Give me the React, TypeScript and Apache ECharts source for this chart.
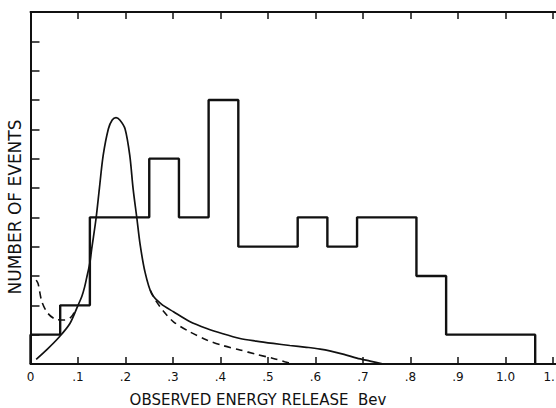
import React, { useEffect, useRef } from "react";
import * as echarts from "echarts";

// Histogram: bins of 1/16 Bev starting at 0, counts per bin
const binWidth = 0.0625;
const binCounts = [1, 2, 5, 5, 7, 5, 9, 4, 4, 5, 4, 5, 5, 3, 1, 1, 1];

// Solid resonance curve [E, events]
const solidCurve: [number, number][] = [
  [0.012, 0.16], [0.035, 0.5], [0.061, 0.93], [0.083, 1.38], [0.1, 2.0],
  [0.108, 2.3], [0.114, 2.63], [0.118, 2.92], [0.125, 3.45], [0.129, 3.94],
  [0.138, 4.96], [0.145, 5.98], [0.153, 7.11], [0.164, 8.02], [0.172, 8.32],
  [0.18, 8.4], [0.188, 8.32], [0.199, 8.02], [0.209, 7.11], [0.216, 5.98],
  [0.224, 4.96], [0.231, 4.05], [0.241, 3.14], [0.255, 2.4], [0.275, 2.05],
  [0.301, 1.78], [0.335, 1.45], [0.371, 1.21], [0.405, 1.03], [0.441, 0.87],
  [0.475, 0.78], [0.511, 0.7], [0.546, 0.63], [0.581, 0.57], [0.61, 0.51],
  [0.63, 0.45], [0.66, 0.33], [0.687, 0.2], [0.715, 0.1], [0.743, 0.0],
];

// Dashed curve, low-energy part and high-energy tail
const dashedLow: [number, number][] = [
  [0.012, 2.86], [0.016, 2.74], [0.024, 2.12], [0.037, 1.72], [0.054, 1.52],
  [0.072, 1.5], [0.086, 1.61], [0.095, 1.85],
];
const dashedHigh: [number, number][] = [
  [0.252, 2.52], [0.263, 2.18], [0.28, 1.8], [0.301, 1.44], [0.335, 1.1],
  [0.371, 0.82], [0.405, 0.63], [0.441, 0.48], [0.475, 0.33], [0.511, 0.19],
  [0.535, 0.08], [0.553, 0.0],
];

const xTickLabels = ["0", ".1", ".2", ".3", ".4", ".5", ".6", ".7", ".8", ".9", "1.0", "1.1"];
const xTitle = "OBSERVED ENERGY RELEASE  Bev";
const yTitle = "NUMBER OF EVENTS";

const FONT = "DejaVu Sans";
const INK = "#111";

export default function App() {
  const ref = useRef<HTMLDivElement>(null);
  useEffect(() => {
    if (!ref.current) return;
    const chart = echarts.init(ref.current, null, { renderer: "svg" });

    const histData: [number, number][] = [[0, 0]];
    binCounts.forEach((c, i) => histData.push([i * binWidth, c]));
    histData.push([binCounts.length * binWidth, 0]);

    const fmt = (v: number) => {
      const i = Math.round(v * 10);
      if (Math.abs(v * 10 - i) > 1e-6) return "";
      return xTickLabels[i] ?? "";
    };

    const commonX = {
      type: "value" as const,
      min: 0,
      max: 1.12,
      interval: 0.1,
      splitLine: { show: false },
      axisLine: { show: true, onZero: false, lineStyle: { color: INK, width: 2 } },
      axisTick: { show: true, inside: true, length: 7, lineStyle: { color: INK, width: 1.5 } },
    };

    chart.setOption({
      animation: false,
      backgroundColor: "#ffffff",
      grid: {
        left: 30.5,
        top: 12,
        width: 532,
        height: 352,
        containLabel: false,
        outerBoundsMode: "none",
      },
      xAxis: [
        {
          ...commonX,
          position: "bottom",
          axisLabel: {
            show: true,
            formatter: fmt,
            color: INK,
            fontFamily: FONT,
            fontSize: 12,
            margin: 7,
            showMaxLabel: false,
            hideOverlap: false,
          },
        },
        {
          ...commonX,
          position: "top",
          axisLabel: { show: false },
        },
      ],
      yAxis: {
        type: "value",
        min: 0,
        max: 12,
        interval: 1,
        splitLine: { show: false },
        axisLine: { show: true, onZero: false, lineStyle: { color: INK, width: 2 } },
        axisTick: { show: true, inside: true, length: 9, lineStyle: { color: INK, width: 1.5 } },
        axisLabel: { show: false },
      },
      graphic: [
        {
          type: "text",
          x: 258,
          y: 400,
          style: {
            text: xTitle,
            fill: INK,
            font: `15px "${FONT}"`,
            textAlign: "center",
            textVerticalAlign: "middle",
          },
        },
        {
          type: "text",
          x: 15,
          y: 207,
          rotation: Math.PI / 2,
          style: {
            text: yTitle,
            fill: INK,
            font: `17px "${FONT}"`,
            textAlign: "center",
            textVerticalAlign: "middle",
          },
        },
      ],
      series: [
        {
          type: "line",
          data: histData,
          step: "end",
          symbol: "none",
          lineStyle: { color: INK, width: 2.4 },
        },
        {
          type: "line",
          data: solidCurve,
          smooth: 0.3,
          symbol: "none",
          lineStyle: { color: INK, width: 1.7 },
        },
        {
          type: "line",
          data: dashedLow,
          smooth: 0.3,
          symbol: "none",
          lineStyle: { color: INK, width: 1.6, type: [7, 5] },
        },
        {
          type: "line",
          data: dashedHigh,
          smooth: 0.3,
          symbol: "none",
          lineStyle: { color: INK, width: 1.6, type: [7, 5] },
        },
      ],
    });
    return () => chart.dispose();
  }, []);
  return (
    <div
      ref={ref}
      style={{ position: "absolute", left: 0, top: 0, width: 556, height: 408, background: "#fff" }}
    />
  );
}
